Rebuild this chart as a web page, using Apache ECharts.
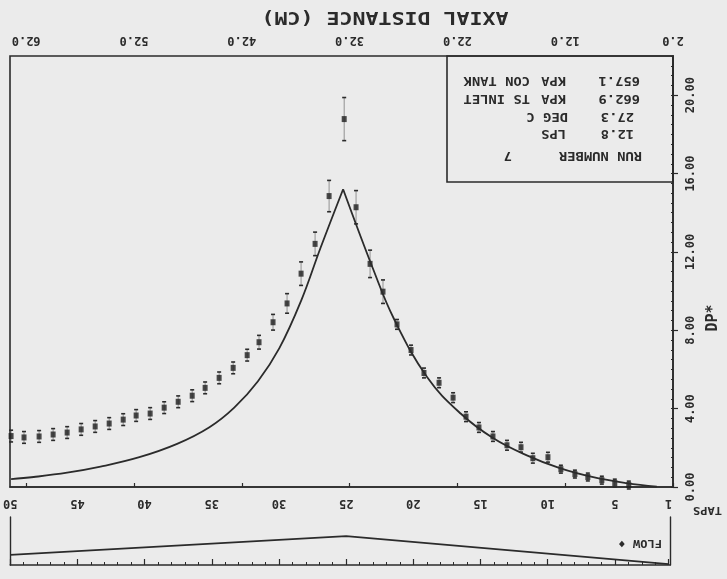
<!DOCTYPE html>
<html>
<head>
<meta charset="utf-8">
<script src="https://cdn.jsdelivr.net/npm/echarts@6/dist/echarts.min.js"></script>
<style>
html, body { margin: 0; padding: 0; background: #ebebeb; }
#chart { width: 727px; height: 579px; }
</style>
</head>
<body>
<div id="chart"></div>
<script>
// measured pressure drop at taps 4 .. 49 (axial distance in cm)
var measuredDistance = [6.1, 7.4, 8.6, 9.9, 11.1, 12.4, 13.6, 15.0, 16.1, 17.4, 18.7, 20.0, 21.2, 22.4, 23.7, 25.1,
  26.3, 27.6, 28.9, 30.1, 31.4, 32.5, 33.9, 35.2, 36.5, 37.8, 39.1, 40.4, 41.5, 42.8, 44.1, 45.4, 46.6, 47.9,
  49.2, 50.5, 51.8, 53.0, 54.3, 55.6, 56.9, 58.2, 59.5, 60.8, 62.2, 63.4]
var measuredDp = [0.10, 0.20, 0.35, 0.51, 0.66, 0.91, 1.52, 1.47, 2.03, 2.13, 2.58, 3.04, 3.59, 4.56, 5.32, 5.82,
  6.99, 8.30, 9.97, 11.39, 14.28, 18.78, 14.85, 12.41, 10.89, 9.37, 8.41, 7.39, 6.73, 6.08, 5.57, 5.06, 4.66, 4.35,
  4.05, 3.75, 3.65, 3.44, 3.24, 3.09, 2.94, 2.78, 2.68, 2.58, 2.53, 2.6]
var measuredErr = [0.2, 0.2, 0.2, 0.2, 0.2, 0.2, 0.25, 0.25, 0.25, 0.25, 0.25, 0.25, 0.25, 0.25, 0.25, 0.25,
  0.25, 0.25, 0.6, 0.7, 0.85, 1.1, 0.8, 0.6, 0.6, 0.5, 0.4, 0.35, 0.3, 0.3, 0.3, 0.3, 0.3, 0.3,
  0.3, 0.3, 0.3, 0.3, 0.3, 0.3, 0.3, 0.3, 0.3, 0.3, 0.3, 0.3]

// predicted curve, split at the peak so the cusp stays sharp
var modelLeftDistance = [32.6, 34.7, 36.5, 38.5, 40.5, 42.7, 45.0, 48.0, 51.5, 55.1, 58.2, 61.3, 63.4]
var modelLeftDp = [15.2, 12.2, 9.5, 7.1, 5.4, 4.05, 3.05, 2.2, 1.52, 1.04, 0.73, 0.51, 0.4]
var modelRightDistance = [32.6, 29.8, 27.9, 24.8, 21.7, 18.7, 15.5, 12.5, 9.4, 6.3, 3.5]
var modelRightDp = [15.2, 11.1, 8.6, 5.6, 3.75, 2.5, 1.6, 0.96, 0.5, 0.2, 0.02]

// flow trace under the tap scale
var flowTaps = [1, 25, 50]
var flowValues = [0.2, 6.0, 2.1]

var distanceTicks = [2, 12, 22, 32, 42, 52, 62]
var dpTicks = [0, 4, 8, 12, 16, 20]
var tapLabels = [1, 5, 10, 15, 20, 25, 30, 35, 40, 45, 50]

var ink = "#2b2b2b"
var mono = '"DejaVu Sans Mono", monospace'

var allTaps = []
for (var t = 1; t <= 50; t++) allTaps.push(t)

function pair(xs, ys) {
  return xs.map(function (x, i) { return [x, ys[i]] })
}

var errorData = measuredDistance.map(function (d, i) {
  return [d, measuredDp[i], measuredErr[i]]
})

// upside-down text pieces, x is where the text starts
function flipText(x, y, text, size, sx) {
  return {
    type: "text", x: x, y: y, rotation: Math.PI, scaleX: sx || 1,
    style: { text: text, fill: ink, font: "bold " + size + "px " + mono, align: "left", verticalAlign: "middle" }
  }
}

var chart = echarts.init(document.getElementById("chart"))
chart.setOption({
  backgroundColor: "#ebebeb",
  animation: false,
  grid: [
    { left: 10, right: 54, top: 56, height: 431, show: true, borderColor: ink, borderWidth: 1.6 },
    { left: 5, right: 57, top: 517, height: 48 }
  ],
  xAxis: [
    {
      type: "value", gridIndex: 0, position: "top", inverse: true, min: 2, max: 63.5,
      axisLine: { lineStyle: { color: ink, width: 1.6 } },
      axisTick: { customValues: distanceTicks, length: 4, lineStyle: { color: ink, width: 1.2 } },
      axisLabel: {
        customValues: distanceTicks, rotate: 180, margin: 10, color: ink,
        fontFamily: mono, fontWeight: "bold", fontSize: 12,
        formatter: function (v) { return v.toFixed(1) }
      },
      splitLine: { show: false }
    },
    {
      type: "value", gridIndex: 1, position: "top", inverse: true, min: 0.9, max: 50,
      axisLine: { lineStyle: { color: ink, width: 1.6 } },
      axisTick: { customValues: tapLabels, length: 6, lineStyle: { color: ink, width: 1.2 } },
      axisLabel: {
        customValues: tapLabels, rotate: 180, margin: 8, color: ink,
        fontFamily: mono, fontWeight: "bold", fontSize: 12
      },
      splitLine: { show: false }
    },
    {
      type: "value", gridIndex: 1, position: "top", inverse: true, min: 0.9, max: 50,
      axisLine: { show: false },
      axisTick: { customValues: allTaps, length: 3, lineStyle: { color: ink, width: 1 } },
      axisLabel: { show: false },
      splitLine: { show: false }
    }
  ],
  yAxis: [
    {
      type: "value", gridIndex: 0, position: "right", min: 0, max: 22,
      axisLine: { show: true, lineStyle: { color: ink, width: 1.6 } },
      axisTick: { show: true, customValues: dpTicks, length: 5, lineStyle: { color: ink, width: 1.2 } },
      axisLabel: {
        customValues: dpTicks, rotate: 90, margin: 12, color: ink,
        fontFamily: mono, fontWeight: "bold", fontSize: 12,
        formatter: function (v) { return v.toFixed(2) }
      },
      splitLine: { show: false }
    },
    {
      type: "value", gridIndex: 0, position: "right", min: 0, max: 22, interval: 0.5,
      axisLine: { show: false },
      axisTick: { show: true, inside: true, length: 2, lineStyle: { color: ink, width: 1 } },
      axisLabel: { show: false },
      splitLine: { show: false }
    },
    {
      type: "value", gridIndex: 1, position: "left", min: 0, max: 10,
      axisLine: { show: true, lineStyle: { color: ink, width: 1.4 } },
      axisTick: { show: false }, axisLabel: { show: false }, splitLine: { show: false }
    },
    {
      type: "value", gridIndex: 1, position: "right", min: 0, max: 10,
      axisLine: { show: true, lineStyle: { color: ink, width: 1.4 } },
      axisTick: { show: false }, axisLabel: { show: false }, splitLine: { show: false }
    }
  ],
  series: [
    {
      type: "line", xAxisIndex: 0, yAxisIndex: 0, data: pair(modelLeftDistance, modelLeftDp),
      smooth: 0.4, showSymbol: false, lineStyle: { color: ink, width: 1.8 }
    },
    {
      type: "line", xAxisIndex: 0, yAxisIndex: 0, data: pair(modelRightDistance, modelRightDp),
      smooth: 0.4, showSymbol: false, lineStyle: { color: ink, width: 1.8 }
    },
    {
      type: "custom", xAxisIndex: 0, yAxisIndex: 0, data: errorData,
      encode: { x: 0, y: 1 },
      renderItem: function (params, api) {
        var x = api.value(0), v = api.value(1), e = api.value(2)
        var hi = api.coord([x, v + e])
        var lo = api.coord([x, v - e])
        var st = { stroke: ink, lineWidth: 1.6 }
        return {
          type: "group",
          children: [
            { type: "line", shape: { x1: hi[0], y1: hi[1], x2: lo[0], y2: lo[1] }, style: { stroke: "#555", lineWidth: 0.6 } },
            { type: "line", shape: { x1: hi[0] - 2, y1: hi[1], x2: hi[0] + 2, y2: hi[1] }, style: st },
            { type: "line", shape: { x1: lo[0] - 2, y1: lo[1], x2: lo[0] + 2, y2: lo[1] }, style: st }
          ]
        }
      }
    },
    {
      type: "scatter", xAxisIndex: 0, yAxisIndex: 0, data: pair(measuredDistance, measuredDp),
      symbol: "rect", symbolSize: [5, 6], itemStyle: { color: "#1e1e1e" }
    },
    {
      type: "line", xAxisIndex: 1, yAxisIndex: 2, data: pair(flowTaps, flowValues),
      showSymbol: false, lineStyle: { color: ink, width: 1.8 }
    }
  ],
  graphic: [
    { type: "rect", shape: { x: 447, y: 56, width: 226, height: 126 }, style: { fill: "none", stroke: ink, lineWidth: 1.6 } },
    flipText(640, 80, "657.1", 12, 1.15), flipText(566, 80, "KPA", 12, 1.15), flipText(530, 80, "CON TANK", 12, 1.15),
    flipText(640, 98, "662.9", 12, 1.15), flipText(566, 98, "KPA", 12, 1.15), flipText(530, 98, "TS INLET", 12, 1.15),
    flipText(634, 116, "27.3", 12, 1.15), flipText(568, 116, "DEG C", 12, 1.15),
    flipText(634, 133, "12.8", 12, 1.15), flipText(566, 133, "LPS", 12, 1.15),
    flipText(642, 155, "RUN NUMBER", 12, 1.15), flipText(512, 155, "7", 12, 1.15),
    {
      type: "text", x: 385, y: 17, rotation: Math.PI, scaleX: 1.2,
      style: { text: "AXIAL DISTANCE (CM)", fill: ink, font: "bold 18px " + mono, align: "center", verticalAlign: "middle" }
    },
    {
      type: "text", x: 713, y: 318, rotation: Math.PI / 2,
      style: { text: "DP*", fill: ink, font: "bold 15px " + mono, align: "center", verticalAlign: "middle" }
    },
    flipText(722, 510, "TAPS", 11, 1.1),
    flipText(662, 543, "FLOW \u2666", 11, 1.1)
  ]
})
</script>
</body>
</html>
